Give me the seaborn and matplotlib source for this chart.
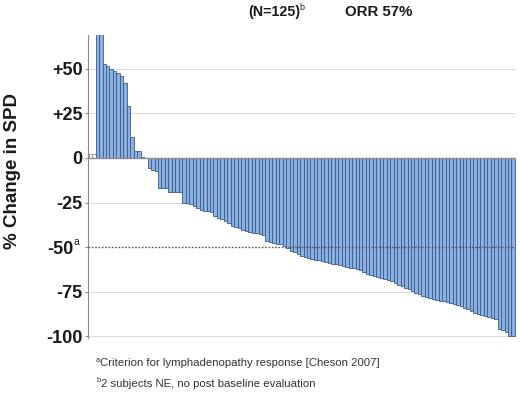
import matplotlib
matplotlib.use("Agg")
import matplotlib.pyplot as plt
import seaborn as sns
import pandas as pd

# ---- data ----
positive_changes = [2.5, 2.5, 150, 110, 52.8, 51.8, 50, 48.6, 47.7, 45.8, 42.1,
                    29, 11.7, 3.8, 3.8, 0.5, 0]
negative_changes = [-5.5, -6.5, -7.4, -16.7, -16.7, -16.7, -19, -19, -19, -19.2,
                    -25, -25.5, -26, -27, -28, -29, -29.5, -30, -30.5, -32.6,
                    -33.5, -34.5, -35.5, -36.5, -38, -38.5, -39.5, -40.5, -41, -41.5,
                    -42, -42.3, -42.6, -43, -46.6, -47, -47.5, -48, -48.5, -49.5,
                    -50.5, -52, -53, -54, -55, -55.5, -56, -56.5, -57, -57.5,
                    -58, -58.5, -59, -59.3, -59.7, -60, -60.5, -61, -61.5, -62,
                    -62.5, -63, -64, -65, -65.5, -66, -66.7, -67.2, -68, -68.7,
                    -69.2, -70, -71, -72, -72.8, -73.5, -74.5, -75.5, -76.5, -77.3,
                    -78, -78.5, -79, -79.5, -80, -80.5, -81, -81.5, -82, -82.5,
                    -83, -84, -85, -86, -86.7, -87.5, -88, -88.7, -89.2, -89.7,
                    -90.5, -96, -96.5, -97.5, -100, -100]
changes = positive_changes + negative_changes
subjects = list(range(len(changes)))
ytick_values = [50, 25, 0, -25, -50, -75, -100]
ytick_labels = ["+50", "+25", "0", "-25", "", "-75", "-100"]
title_n = "(N=125)"
title_orr = "ORR 57%"
footnote_a = "Criterion for lymphadenopathy response [Cheson 2007]"
footnote_b = "2 subjects NE, no post baseline evaluation"

FILL = "#8BB1E1"
EDGE = "#3B5B8C"

sns.set_theme(style="white")
plt.rcParams["font.family"] = ["Liberation Sans", "DejaVu Sans"]

W, H = 520, 394
fig = plt.figure(figsize=(W / 100, H / 100), dpi=100)
ax = fig.add_axes([88 / W, (H - 338) / H, 428 / W, (338 - 35) / H])

df = pd.DataFrame({"subject": subjects, "change": changes})
sns.barplot(data=df, x="subject", y="change", color=FILL, saturation=1,
            width=1.0, edgecolor=EDGE, linewidth=0.6, ax=ax, zorder=2)
for p in ax.patches[:2]:
    p.set_facecolor("white")
    p.set_edgecolor("#8a8a8a")

ax.set_ylim(-101, 69)
ax.set_xlim(-0.7, len(changes) - 0.2)

for yv in [50, 25, -25, -75, -100]:
    ax.axhline(yv, color="#dcdcdc", lw=0.8, zorder=0)
ax.axhline(0, color="#8c8c8c", lw=1.0, zorder=3)
ax.axhline(-50, color="#555555", lw=1.0, ls=(0, (1.2, 1.2)), zorder=3)

for s in ["top", "right", "bottom"]:
    ax.spines[s].set_visible(False)
ax.spines["left"].set_color("#8c8c8c")
ax.spines["left"].set_linewidth(0.8)

ax.set_xticks([])
ax.set_xlabel("")
ax.set_ylabel("")
ax.set_yticks(ytick_values)
ax.set_yticklabels(ytick_labels, fontsize=13, fontweight="bold", color="#1a1a1a")
ax.tick_params(axis="y", left=True, length=2.5, width=0.8, color="#8c8c8c", pad=1.5)

def fx(px):
    return px / W

def fy(py):
    return 1 - py / H

# -50 label with superscript a
fig.text(fx(73), fy(248), "-50", fontsize=13, fontweight="bold", color="#1a1a1a",
         ha="right", va="center_baseline")
fig.text(fx(73.5), fy(242), "a", fontsize=7.5, color="#1a1a1a", ha="left", va="center")

fig.text(fx(13), fy(171), "% Change in SPD", rotation=90, fontsize=13.5,
         fontweight="bold", color="#1a1a1a", ha="center", va="center")

fig.text(fx(248), fy(12), title_n, fontsize=10.3, fontweight="bold", color="#1a1a1a",
         ha="left", va="center")
fig.text(fx(299), fy(8), "b", fontsize=6.5, color="#1a1a1a", ha="left", va="center")
fig.text(fx(345), fy(12), title_orr, fontsize=10.8, fontweight="bold", color="#1a1a1a",
         ha="left", va="center")

fig.text(fx(96), fy(361), "a", fontsize=5.5, color="#333333", ha="left", va="center")
fig.text(fx(100), fy(363.5), footnote_a, fontsize=8.2, color="#333333", ha="left", va="center")
fig.text(fx(97), fy(381), "b", fontsize=5.5, color="#333333", ha="left", va="center")
fig.text(fx(101), fy(384), footnote_b, fontsize=8.2, color="#333333", ha="left", va="center")

fig.savefig("out.png", dpi=100)
